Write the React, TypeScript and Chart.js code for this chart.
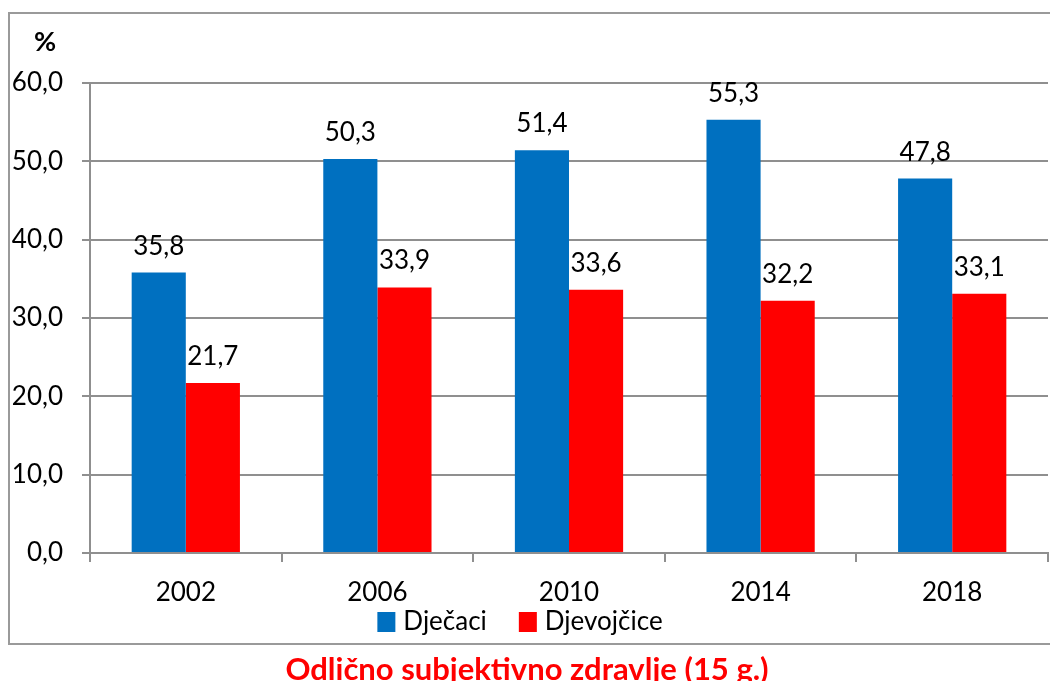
import React, { useEffect, useRef } from "react";
import { Chart, registerables } from "chart.js";

Chart.register(...registerables);

const categories = ["2002", "2006", "2010", "2014", "2018"];
const boys = [35.8, 50.3, 51.4, 55.3, 47.8];
const girls = [21.7, 33.9, 33.6, 32.2, 33.1];
const seriesNames = ["Dječaci", "Djevojčice"];
const seriesColors = ["#0070C0", "#FF0000"];
const chartTitle = "Odlično subjektivno zdravlje (15 g.)";
const unitLabel = "%";

const FONT = "Lato";
const GRID = "#8f8f8f";

const fmt = (v: number) => v.toFixed(1).replace(".", ",");

export default function App() {
  const ref = useRef<HTMLCanvasElement | null>(null);
  useEffect(() => {
    if (!ref.current) return;
    const decor = {
      id: "decor",
      beforeDraw(chart: any) {
        const ctx = chart.ctx;
        ctx.save();
        ctx.fillStyle = "#fff";
        ctx.fillRect(0, 0, chart.width, chart.height);
        ctx.strokeStyle = "#9a9a9a";
        ctx.lineWidth = 2;
        ctx.strokeRect(9, 13, 1060, 631);
        ctx.restore();
      },
      afterDraw(chart: any) {
        const ctx = chart.ctx;
        ctx.save();
        ctx.fillStyle = "#000";
        ctx.font = `bold 27px ${FONT}`;
        ctx.textAlign = "center";
        ctx.textBaseline = "middle";
        ctx.fillText(unitLabel, 45, 42);
        ctx.fillStyle = "#ff0000";
        ctx.font = `bold 31px ${FONT}`;
        ctx.textBaseline = "alphabetic";
        ctx.fillText(chartTitle, 527, 680);
        // value labels
        ctx.fillStyle = "#000";
        ctx.font = `26px ${FONT}`;
        chart.data.datasets.forEach((ds: any, i: number) => {
          const meta = chart.getDatasetMeta(i);
          meta.data.forEach((el: any, j: number) => {
            ctx.fillText(fmt(ds.data[j]), el.x, el.y - 18);
          });
        });
        // legend
        ctx.font = `26px ${FONT}`;
        ctx.textAlign = "left";
        ctx.textBaseline = "middle";
        const boxW = 18, boxH = 20, gapBT = 8, gapItems = 32;
        const widths = chart.data.datasets.map((ds: any) => ctx.measureText(ds.label).width);
        const total = widths.reduce((a: number, w: number) => a + boxW + gapBT + w, 0) + gapItems * (widths.length - 1);
        let x = 520 - total / 2;
        const cy = 622;
        chart.data.datasets.forEach((ds: any, i: number) => {
          ctx.fillStyle = ds.backgroundColor;
          ctx.fillRect(x, cy - boxH / 2, boxW, boxH);
          ctx.fillStyle = "#000";
          ctx.fillText(ds.label, x + boxW + gapBT, cy);
          x += boxW + gapBT + widths[i] + gapItems;
        });
        ctx.restore();
      },
    };
    const chart = new Chart(ref.current, {
      type: "bar",
      data: {
        labels: categories,
        datasets: [
          { label: seriesNames[0], data: boys, backgroundColor: seriesColors[0] },
          { label: seriesNames[1], data: girls, backgroundColor: seriesColors[1] },
        ],
      },
      options: {
        responsive: false,
        animation: false,
        layout: { padding: { left: 0, right: 2, top: 83, bottom: 72 } },
        datasets: { bar: { categoryPercentage: 0.565, barPercentage: 1 } },
        plugins: {
          legend: { display: false },
          title: { display: false },
          tooltip: { enabled: false },
        },
        scales: {
          x: {
            grid: { display: true, drawOnChartArea: false, drawTicks: true, tickLength: 9, color: GRID, lineWidth: 2, offset: true },
            border: { color: GRID, width: 2 },
            ticks: { color: "#000", font: { family: FONT, size: 26 }, padding: 15 },
            afterFit: (s: any) => { s.height = 56; },
          },
          y: {
            min: 0,
            max: 60,
            grid: { color: GRID, lineWidth: 2, tickLength: 8 },
            border: { color: GRID, width: 2 },
            ticks: {
              stepSize: 10,
              color: "#000",
              padding: 19,
              font: { family: FONT, size: 26 },
              callback: (v: any) => fmt(Number(v)),
            },
            afterFit: (s: any) => { s.width = 90; },
          },
        },
      },
      plugins: [decor],
    });
    return () => chart.destroy();
  }, []);
  return (
    <canvas
      ref={ref}
      width={1050}
      height={681}
      style={{ position: "absolute", left: 0, top: 0, width: 1050, height: 681 }}
    />
  );
}
